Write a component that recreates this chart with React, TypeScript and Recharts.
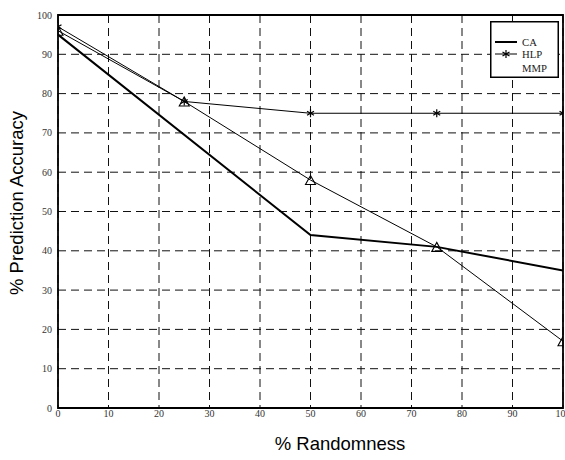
import React from 'react';
import { LineChart, Line, XAxis, YAxis, CartesianGrid, ReferenceArea } from 'recharts';

const xTicks = [0, 10, 20, 30, 40, 50, 60, 70, 80, 90, 100];
const yTicks = [0, 10, 20, 30, 40, 50, 60, 70, 80, 90, 100];

const caX = [0, 50, 75, 100];
const caY = [95, 44, 41, 35];
const hlpX = [0, 25, 50, 75, 100];
const hlpY = [97, 78, 75, 75, 75];
const mmpX = [0, 25, 50, 75, 100];
const mmpY = [96, 78, 58, 41, 17];

const toData = (xs: number[], ys: number[]) => xs.map((x, i) => ({ x, y: ys[i] }));
const caData = toData(caX, caY);
const hlpData = toData(hlpX, hlpY);
const mmpData = toData(mmpX, mmpY);

const StarDot = (props: any) => {
  const { cx, cy, index } = props;
  if (cx == null || cy == null) return null;
  const r = 4;
  const dx = r * Math.cos(Math.PI / 6);
  const dy = r * Math.sin(Math.PI / 6);
  return (
    <g key={`s-${index}`} stroke="#000" strokeWidth={1.2}>
      <line x1={cx} y1={cy - r} x2={cx} y2={cy + r} />
      <line x1={cx - dx} y1={cy - dy} x2={cx + dx} y2={cy + dy} />
      <line x1={cx - dx} y1={cy + dy} x2={cx + dx} y2={cy - dy} />
    </g>
  );
};

const TriDot = (props: any) => {
  const { cx, cy, index } = props;
  if (cx == null || cy == null) return null;
  const w = 5, h = 4.5;
  return (
    <path
      key={`t-${index}`}
      d={`M${cx},${cy - h} L${cx + w},${cy + h} L${cx - w},${cy + h} Z`}
      fill="none"
      stroke="#000"
      strokeWidth={1.1}
    />
  );
};

const tickStyle = { fontFamily: '"Liberation Serif", "Times New Roman", serif', fontSize: 10, fill: '#333' };

export default function App() {
  return (
    <div style={{ position: 'absolute', left: 0, top: 0, width: 565, height: 460, background: '#fff' }}>
      <LineChart width={565} height={460} margin={{ top: 15, right: 2, left: 0, bottom: 0 }}>
        <CartesianGrid stroke="#111" strokeDasharray="8 5" strokeWidth={1} />
        <XAxis
          type="number"
          dataKey="x"
          domain={[0, 100]}
          ticks={xTicks}
          allowDataOverflow
          height={52}
          tickLine={false}
          axisLine={false}
          tickSize={2}
          tickMargin={0}
          tick={tickStyle}
          interval={0}
        />
        <YAxis
          type="number"
          dataKey="y"
          domain={[0, 100]}
          ticks={yTicks}
          allowDataOverflow
          width={58}
          tickLine={false}
          axisLine={false}
          tickSize={4}
          tickMargin={2}
          tick={tickStyle}
          interval={0}
        />
        <ReferenceArea x1={0} x2={100} y1={0} y2={100} fill="none" stroke="#000" strokeWidth={1.8} ifOverflow="visible" />
        <Line data={caData} dataKey="y" stroke="#000" strokeWidth={2} dot={false} isAnimationActive={false} />
        <Line data={hlpData} dataKey="y" stroke="#000" strokeWidth={1} dot={<StarDot />} isAnimationActive={false} />
        <Line data={mmpData} dataKey="y" stroke="#000" strokeWidth={1} dot={<TriDot />} isAnimationActive={false} />
      </LineChart>
      <div
        style={{
          position: 'absolute',
          left: 17,
          top: 203,
          transform: 'translate(-50%, -50%) rotate(-90deg)',
          whiteSpace: 'nowrap',
          fontFamily: '"Liberation Sans", Arial, sans-serif',
          fontSize: 18.5,
          color: '#000',
        }}
      >
        % Prediction Accuracy
      </div>
      <div
        style={{
          position: 'absolute',
          left: 340,
          top: 444,
          transform: 'translate(-50%, -50%)',
          whiteSpace: 'nowrap',
          fontFamily: '"Liberation Sans", Arial, sans-serif',
          fontSize: 18.5,
          color: '#000',
        }}
      >
        % Randomness
      </div>
      <svg style={{ position: 'absolute', left: 490, top: 21 }} width={69} height={57}>
        <rect x={0.75} y={0.75} width={67.5} height={55.5} fill="#fff" stroke="#000" strokeWidth={1.5} />
        <line x1={5} y1={21} x2={27} y2={21} stroke="#000" strokeWidth={2} />
        <line x1={5} y1={33} x2={27} y2={33} stroke="#000" strokeWidth={1} />
        <g stroke="#000" strokeWidth={1.2}>
          <line x1={16} y1={29} x2={16} y2={37} />
          <line x1={12.5} y1={31} x2={19.5} y2={35} />
          <line x1={12.5} y1={35} x2={19.5} y2={31} />
        </g>
        <g style={{ fontFamily: '"Liberation Serif", "Times New Roman", serif', fontSize: 10.7 }} fill="#222">
          <text x={32} y={25}>CA</text>
          <text x={32} y={36.5}>HLP</text>
          <text x={32} y={50.5}>MMP</text>
        </g>
      </svg>
    </div>
  );
}
